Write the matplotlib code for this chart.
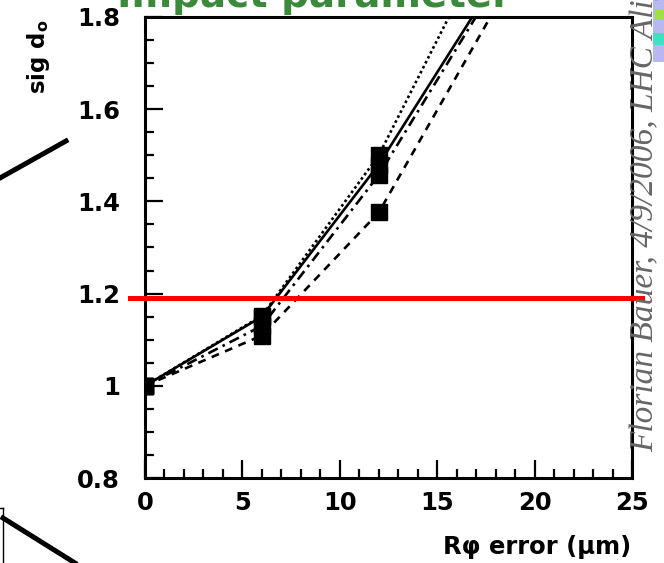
import matplotlib
matplotlib.use('Agg')
import matplotlib.pyplot as plt
from matplotlib.lines import Line2D
from matplotlib.patches import Rectangle
from matplotlib.ticker import MultipleLocator

# Data
rphi_err = [0, 6, 12, 18]
sig_dotted = [1.00, 1.152, 1.500, 2.00]
sig_solid = [1.00, 1.150, 1.480, 1.88]
sig_dashdot = [1.00, 1.130, 1.457, 1.87]
sig_dashed = [1.00, 1.109, 1.376, 1.82]
red_level = 1.19

xticks = [0, 5, 10, 15, 20, 25]
yticks = [0.8, 1.0, 1.2, 1.4, 1.6, 1.8]
ytick_labels = ['0.8', '1', '1.2', '1.4', '1.6', '1.8']

W, H = 664, 563
fig = plt.figure(figsize=(W / 100, H / 100), dpi=100)
ax = fig.add_axes([145 / W, 1 - 478 / H, 487 / W, 461 / H])

lw = 1.9
ms = 11
ax.plot(rphi_err, sig_dotted, color='black', lw=lw, linestyle=(0, (1, 1.1)),
        marker='s', ms=ms, mfc='black', mec='black')
ax.plot(rphi_err, sig_solid, color='black', lw=lw, linestyle='-',
        marker='s', ms=ms, mfc='black', mec='black')
ax.plot(rphi_err, sig_dashdot, color='black', lw=lw, linestyle=(0, (4, 2, 1, 2)),
        marker='s', ms=ms, mfc='black', mec='black')
ax.plot(rphi_err, sig_dashed, color='black', lw=lw, linestyle=(0, (3, 2.5)),
        marker='s', ms=ms, mfc='black', mec='black')

ax.axhline(red_level, xmin=-0.031, xmax=1.02, color='#ff0000', lw=3.6,
           clip_on=False, zorder=5)

ax.set_xlim(0, 25)
ax.set_ylim(0.8, 1.8)
ax.set_xticks(xticks)
ax.set_xticklabels([str(t) for t in xticks])
ax.set_yticks(yticks)
ax.set_yticklabels(ytick_labels)
ax.xaxis.set_minor_locator(MultipleLocator(1))
ax.yaxis.set_minor_locator(MultipleLocator(0.05))

for s in ax.spines.values():
    s.set_linewidth(2.2)
ax.tick_params(which='both', direction='in', width=1.6, top=False, right=False)
ax.tick_params(which='major', length=13)
ax.tick_params(which='minor', length=6.5)
ax.tick_params(axis='y', which='major', pad=18)
ax.tick_params(axis='x', which='major', pad=9)
for lab in ax.get_xticklabels() + ax.get_yticklabels():
    lab.set_fontsize(17.5)
    lab.set_fontweight('bold')

# axis titles
fig.text(631 / W, 1 - 547 / H, 'R\u03c6 error (\u03bcm)', ha='right', va='center',
         fontsize=17.5, fontweight='bold')
fig.text(38 / W, 1 - 57 / H, r'sig d$_{\mathbf{o}}$', rotation=90, ha='center',
         va='center', fontsize=16.5, fontweight='bold')

# slide title, cut at the top
fig.text(314 / W, 1 - 7 / H, 'Impact parameter', ha='center', va='baseline',
         fontsize=28, fontweight='bold', color='#3b8a3b')

# author line on the right
fig.text(653 / W, 1 - 452 / H, 'Florian Bauer, 4/9/2006, LHC Alignment',
         rotation=90, rotation_mode='anchor', ha='left', va='baseline',
         fontsize=24, style='italic', family='Liberation Serif', color='#666666')

# slide decorations
fig.add_artist(Line2D([0, 66 / W], [1 - 178 / H, 1 - 141 / H], color='black', lw=3.6))
fig.add_artist(Line2D([3 / W, 75 / W], [1 - 518 / H, 0], color='black', lw=3.6))
fig.add_artist(Line2D([3 / W, 3 / W], [1 - 508 / H, 0], color='black', lw=1))
fig.add_artist(Line2D([0, 3 / W], [1 - 508 / H, 1 - 508 / H], color='black', lw=1))
fig.add_artist(Rectangle((653 / W, 1 - 62 / H), 11 / W, 62 / H, color='#b8b8f0', lw=0))
fig.add_artist(Rectangle((653 / W, 1 - 45 / H), 11 / W, 12 / H, color='#40e0c0', lw=0))
fig.add_artist(Rectangle((655 / W, 1 - 20 / H), 9 / W, 10 / H, color='#a0e040', lw=0))

fig.savefig('out.png', dpi=100)
